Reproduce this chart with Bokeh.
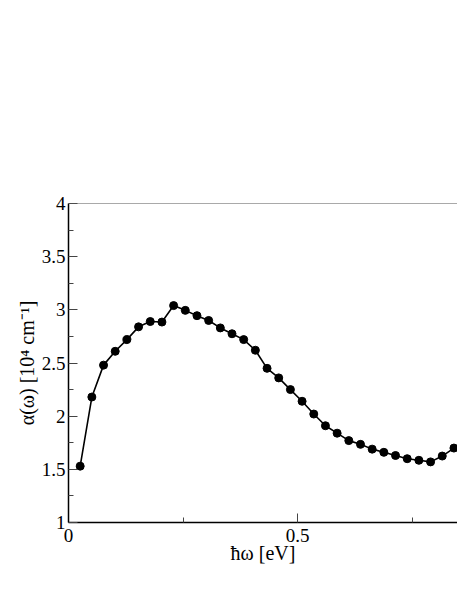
from bokeh.plotting import figure
from bokeh.models import FixedTicker, Range1d, Span
from bokeh.embed import file_html
from bokeh.resources import INLINE

# photon energy (eV)
energy = [0.0255, 0.0510, 0.0765, 0.1020, 0.1275, 0.1530, 0.1785, 0.2040, 0.2295, 0.2550,
          0.2805, 0.3060, 0.3315, 0.3570, 0.3825, 0.4080, 0.4335, 0.4590, 0.4845, 0.5100,
          0.5355, 0.5610, 0.5865, 0.6120, 0.6375, 0.6630, 0.6885, 0.7140, 0.7395, 0.7650,
          0.7905, 0.8160, 0.8415]
# absorption coefficient (10^4 cm^-1)
alpha = [1.53, 2.18, 2.48, 2.61, 2.72, 2.84, 2.89, 2.885, 3.04, 2.995,
         2.945, 2.90, 2.83, 2.775, 2.72, 2.62, 2.45, 2.36, 2.25, 2.14,
         2.02, 1.91, 1.84, 1.77, 1.735, 1.69, 1.66, 1.63, 1.60, 1.585,
         1.57, 1.625, 1.70]

y_major = [1, 1.5, 2, 2.5, 3, 3.5, 4]
y_minor = [1.25, 1.75, 2.25, 2.75, 3.25, 3.75]
x_major = [0, 0.5, 1.0]
x_minor = [0.25, 0.75]

FONT = "'Liberation Serif', 'Times New Roman', serif"

p = figure(width=457, height=575, output_backend="svg", toolbar_location=None,
           x_range=Range1d(0, 0.8493), y_range=Range1d(1, 4),
           min_border_left=68, min_border_right=0, min_border_top=203,
           min_border_bottom=53)

p.line(energy, alpha, line_color="black", line_width=1.6)
p.scatter(energy, alpha, size=8, fill_color="black", line_color="black")

p.xgrid.visible = False
p.ygrid.visible = False
p.outline_line_color = None
p.background_fill_color = "white"
p.border_fill_color = "white"
p.add_layout(Span(location=4, dimension="width", line_color="#555555", line_width=1.2))

p.yaxis.ticker = FixedTicker(ticks=y_major, minor_ticks=y_minor)
p.xaxis.ticker = FixedTicker(ticks=x_major, minor_ticks=x_minor)
p.yaxis.major_label_overrides = {1: "1", 1.5: "1.5", 2: "2", 2.5: "2.5", 3: "3", 3.5: "3.5", 4: "4"}
p.xaxis.major_label_overrides = {0: "0", 0.5: "0.5", 1.0: "1"}

for ax in (p.xaxis[0], p.yaxis[0]):
    ax.axis_line_color = "black"
    ax.axis_line_width = 1.5
    ax.major_tick_in = 9
    ax.major_tick_out = 0
    ax.minor_tick_in = 5
    ax.minor_tick_out = 0
    ax.major_tick_line_color = "#444444"
    ax.minor_tick_line_color = "#444444"
    ax.major_label_text_font = FONT
    ax.major_label_text_font_size = "19px"
    ax.major_label_text_color = "black"
    ax.axis_label_text_font = FONT
    ax.axis_label_text_font_size = "20px"
    ax.axis_label_text_font_style = "normal"
    ax.axis_label_text_color = "black"

p.yaxis.major_label_standoff = 3
p.xaxis.major_label_standoff = 6
p.yaxis.axis_label = "α(ω) [10⁴ cm⁻¹]"
p.xaxis.axis_label = "ħω [eV]"
p.yaxis.axis_label_standoff = 1
p.xaxis.axis_label_standoff = -3

open("out.html", "w").write(file_html(p, INLINE))
